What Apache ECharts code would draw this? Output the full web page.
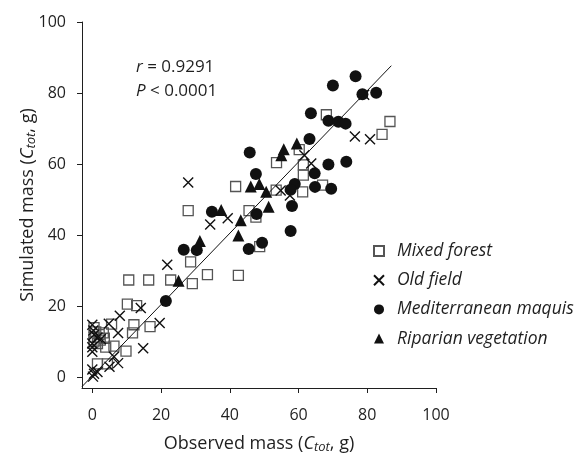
<!DOCTYPE html>
<html>
<head>
<meta charset="utf-8">
<script src="https://cdn.jsdelivr.net/npm/echarts@6/dist/echarts.min.js"></script>
<style>
  html, body { margin: 0; padding: 0; background: #fff; }
  #chart { width: 584px; height: 455px; }
</style>
</head>
<body>
<div id="chart"></div>
<script>
// values: [observed, simulated]
const mixedForest = [
    [68.1, 73.9], [86.6, 72.0], [84.3, 68.4], [60.2, 64.1], [53.6, 60.4], [61.4, 59.8],
    [61.4, 56.9], [67.0, 54.1], [61.2, 52.2], [41.7, 53.7], [53.5, 52.7], [27.9, 46.9],
    [45.6, 46.9], [47.6, 45.1], [48.7, 36.8], [28.6, 32.5], [33.5, 28.9], [42.5, 28.7],
    [29.1, 26.4], [10.6, 27.4], [16.4, 27.4], [22.8, 27.4], [10.2, 20.6], [12.9, 20.2],
    [12.1, 14.8], [16.8, 14.3], [5.6, 15.0], [11.7, 12.5], [6.3, 8.8], [3.9, 8.5],
    [9.8, 7.4], [1.5, 3.8], [4.4, 3.8], [0.5, 14.0], [1.0, 12.8], [0.5, 11.3],
    [2.0, 12.0], [3.2, 12.5], [0.5, 10.0], [1.5, 9.5], [3.5, 11.0], [2.3, 10.5]
];
const oldField = [
    [79.1, 79.5], [76.4, 67.8], [80.8, 67.0], [61.7, 62.5], [63.7, 60.2], [54.8, 52.6],
    [57.5, 51.2], [27.9, 54.8], [34.3, 43.0], [39.4, 44.8], [21.8, 31.7], [14.1, 19.5],
    [8.0, 17.3], [19.6, 15.3], [4.8, 15.1], [7.5, 12.5], [14.8, 8.2], [6.3, 5.8],
    [7.5, 4.0], [5.0, 3.0], [0, 14.8], [0.3, 13.2], [0.5, 12.0], [1.5, 11.2],
    [0, 9.5], [0, 8.5], [0, 7.2], [2.5, 10.8], [0, 2.2], [0.5, 1.0], [1.5, 1.5], [0.2, 0.2]
];
const maquis = [
    [76.6, 84.7], [70.0, 82.1], [78.6, 79.7], [82.6, 80.1], [63.6, 74.3], [68.7, 72.2],
    [71.6, 71.9], [73.7, 71.4], [63.2, 67.1], [45.8, 63.3], [73.9, 60.7], [68.7, 59.9],
    [47.6, 57.2], [64.7, 57.4], [64.8, 53.6], [69.5, 53.1], [58.9, 54.4], [57.7, 52.8],
    [58.1, 48.2], [47.8, 46.0], [34.8, 46.6], [57.7, 41.2], [49.4, 37.9], [45.5, 36.1],
    [26.6, 35.9], [30.4, 35.8], [21.4, 21.5]
];
const riparian = [
    [59.5, 65.8], [55.7, 64.2], [55.0, 62.5], [46.1, 53.7], [48.6, 54.4], [50.6, 52.2],
    [51.3, 48.0], [37.5, 47.1], [43.2, 44.2], [42.5, 39.9], [31.3, 38.4], [25.1, 27.2]
];
// fitted line ends
const fitLine = [[-3, -2.6], [87, 87.7]];
const tickValues = [0, 20, 40, 60, 80, 100];
const seriesNames = ['Mixed forest', 'Old field', 'Mediterranean maquis', 'Riparian vegetation'];

const FONT = 'Open Sans';
const INK = '#1f1f1f';
const CROSS = 'path://M0,0L10,10M10,0L0,10';

const axisOpt = (name, gap, labelMargin) => ({
    type: 'value',
    min: -3,
    max: 100,
    name: name,
    nameLocation: 'middle',
    nameGap: gap,
    nameMoveOverlap: false,
    nameTextStyle: {
        fontFamily: FONT,
        fontSize: 18,
        color: INK,
        rich: {
            i: { fontFamily: FONT, fontSize: 18, fontStyle: 'italic', color: INK },
            s: { fontFamily: FONT, fontSize: 13, fontStyle: 'italic', color: INK, verticalAlign: 'bottom', padding: [7, 0, 0, 0] }
        }
    },
    splitLine: { show: false },
    axisLine: { onZero: false, lineStyle: { color: INK, width: 1 } },
    axisTick: { customValues: tickValues, length: 5, lineStyle: { color: INK } },
    axisLabel: { customValues: tickValues, fontFamily: FONT, fontSize: 16, color: INK, margin: labelMargin }
});

const chart = echarts.init(document.getElementById('chart'));
chart.setOption({
    animation: false,
    grid: { left: 82, right: 148, top: 22, bottom: 67, outerBoundsMode: 'none' },
    xAxis: axisOpt('Observed mass ({i|C}{s|tot}, g)', 46, 19),
    yAxis: axisOpt('Simulated mass ({i|C}{s|tot}, g)', 44, 16),
    legend: {
        data: seriesNames,
        orient: 'vertical',
        left: 373,
        top: 242,
        padding: 0,
        itemWidth: 10,
        itemHeight: 10,
        itemGap: 11.2,
        textStyle: { fontFamily: FONT, fontSize: 17.5, fontStyle: 'italic', color: INK, padding: [0, 0, 0, 8] }
    },
    graphic: [
        {
            type: 'text', x: 136, y: 66.7,
            style: { text: '{i|r} = 0.9291', fontFamily: FONT, fontSize: 17, fill: INK, verticalAlign: 'middle',
                rich: { i: { fontFamily: FONT, fontSize: 17, fontStyle: 'italic', fill: INK } } }
        },
        {
            type: 'text', x: 136, y: 90.7,
            style: { text: '{i|P} < 0.0001', fontFamily: FONT, fontSize: 17, fill: INK, verticalAlign: 'middle',
                rich: { i: { fontFamily: FONT, fontSize: 17, fontStyle: 'italic', fill: INK } } }
        }
    ],
    series: [
        {
            name: seriesNames[0], type: 'scatter', data: mixedForest,
            symbol: 'rect', symbolSize: 10,
            itemStyle: { color: 'transparent', borderColor: '#555', borderWidth: 1.3, opacity: 1 }
        },
        {
            name: seriesNames[1], type: 'scatter', data: oldField,
            symbol: CROSS, symbolSize: 10,
            itemStyle: { color: 'transparent', borderColor: '#111', borderWidth: 1.4, opacity: 1 }
        },
        {
            name: seriesNames[2], type: 'scatter', data: maquis,
            symbol: 'circle', symbolSize: 12,
            itemStyle: { color: '#111', opacity: 1 }
        },
        {
            name: seriesNames[3], type: 'scatter', data: riparian,
            symbol: 'triangle', symbolSize: 12,
            itemStyle: { color: '#111', opacity: 1 }
        },
        {
            type: 'line', data: fitLine, symbol: 'none', silent: true,
            lineStyle: { color: '#111', width: 1 }
        }
    ]
});
</script>
</body>
</html>
